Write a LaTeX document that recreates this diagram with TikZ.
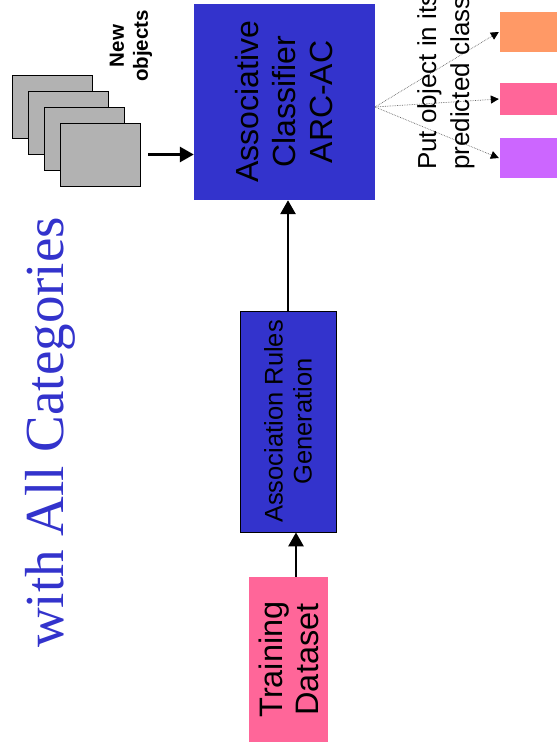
\documentclass[tikz,border=0pt]{standalone}
\usepackage{fontspec}
\setmainfont{Liberation Sans}
\newfontfamily\titlefont{Liberation Serif}
\usetikzlibrary{arrows.meta}
\definecolor{arcblue}{HTML}{3333CC}
\definecolor{arcpink}{HTML}{FF6699}
\definecolor{arcorange}{HTML}{FF9966}
\definecolor{arcviolet}{HTML}{CC66FF}
\tikzset{
  box/.style={rectangle, inner sep=0pt},
  card/.style={box, draw=black, fill=black!30, line width=0.8pt, minimum width=80pt, minimum height=63pt},
  uptext/.style={rotate=90, align=center, inner sep=0pt},
  bigarrow/.style={-{Triangle[length=14pt,width=15pt]}, line width=2.8pt},
  classarrow/.style={-{Triangle[length=8pt,width=8pt,color=black]}, densely dotted, black!60, line width=0.7pt},
}
\begin{document}
\begin{tikzpicture}[x=1pt,y=-1pt]
        \clip (0,0) rectangle (557,753);
        \useasboundingbox (0,0) rectangle (557,753);
        % title
        \node[uptext, anchor=base west, text=arcblue, font=\titlefont\fontsize{55}{60}\selectfont] (title) at (63, 648) {with All Categories};
        % new objects
        \foreach \i in {0, 1, 2, 3}{
          \node[card] (card\i) at (52+16*\i, 106.5+16*\i) {};
        }
        \node[uptext, font=\bfseries\fontsize{20.5}{24}\selectfont] (newobj) at (131, 46) {New\\objects};
        % boxes
        \node[box, fill=arcblue, minimum width=181pt, minimum height=196pt] (cls) at (284.5, 102) {};
        \node[uptext, font=\fontsize{32}{37}\selectfont] at (cls) {Associative\\Classifier\\ARC-AC};
        \node[box, draw=black, fill=arcblue, line width=0.8pt, minimum width=96pt, minimum height=221pt] (rules) at (288, 421.5) {};
        \node[uptext, font=\fontsize{25.5}{29}\selectfont] at (rules) {Association Rules\\Generation};
        \node[box, fill=arcpink, minimum width=79pt, minimum height=165pt] (train) at (288.5, 659.5) {};
        \node[uptext, font=\fontsize{32.5}{36}\selectfont] at (train) {Training\\Dataset};
        \draw[bigarrow] ([xshift=7.5pt]train.north) -- ([xshift=7.5pt]train.north |- rules.south);
        \draw[bigarrow] (rules.north) -- (rules.north |- cls.south);
        \draw[bigarrow] ([xshift=8pt]card3.east) -- (card3.east -| cls.west);
        % classes
        \node[box, fill=arcorange, minimum width=70pt, minimum height=40pt] (orange) at (535, 32) {};
        \node[box, fill=arcpink, minimum width=70pt, minimum height=32pt] (pink) at (535, 99) {};
        \node[box, fill=arcviolet, minimum width=70pt, minimum height=40pt] (violet) at (535, 158) {};
        \coordinate (fan) at (375, 107);
        \foreach \Class in {orange, pink, violet}{
          \draw[classarrow] (fan) -- ([xshift=-1pt]\Class.west);
        }
        \node[uptext, align=left, anchor=west, font=\fontsize{26}{33}\selectfont] (put) at (446, 170) {Put object in its\\predicted class};
      \end{tikzpicture}
\end{document}
